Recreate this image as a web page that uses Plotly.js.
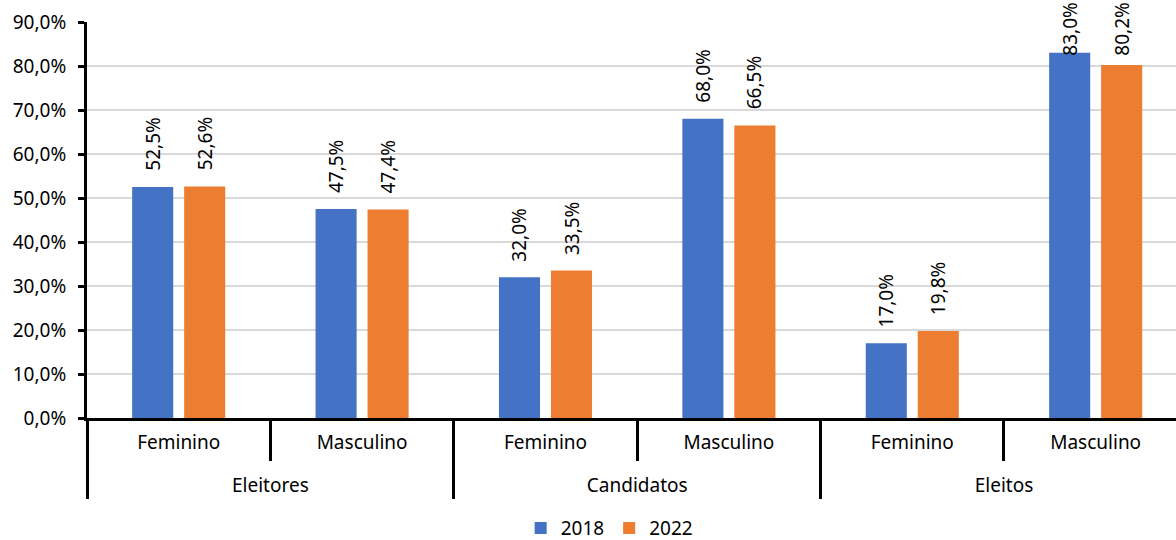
<!DOCTYPE html>
<html>
<head>
<meta charset="utf-8">
<script src="https://cdn.plot.ly/plotly-3.0.1.min.js"></script>
<style>
  html, body { margin: 0; padding: 0; background: #fff; }
  #chart { width: 1176px; height: 540px; }
</style>
</head>
<body>
<div id="chart"></div>
<script>
// Share of women and men among voters, candidates and elected (%)
const groups = ['Eleitores', 'Eleitores', 'Candidatos', 'Candidatos', 'Eleitos', 'Eleitos'];
const sexes = ['Feminino', 'Masculino', 'Feminino', 'Masculino', 'Feminino', 'Masculino'];
const years = ['2018', '2022'];
const values2018 = [52.5, 47.5, 32.0, 68.0, 17.0, 83.0];
const values2022 = [52.6, 47.4, 33.5, 66.5, 19.8, 80.2];
const colors = ['#4472C4', '#ED7D31'];

const FONT = 'Noto Sans, Open Sans, sans-serif';
const fmt = v => v.toFixed(1).replace('.', ',') + '%';

// A small blank second line under each inner label leaves room above the outer row.
const innerLabels = sexes.map(s => s + '<br><span style="font-size:4px">\u00a0</span>');

const series = [values2018, values2022];
const traces = series.map((vals, i) => ({
  type: 'bar',
  name: years[i],
  x: [groups, innerLabels],
  y: vals,
  marker: { color: colors[i] },
  hoverinfo: 'skip'
}));

// Rotated value labels above each bar; labels that would run past the top
// edge are pinned to the top of the figure instead.
const PLOT_H = 396, TOP_M = 22, YMAX = 90, LABEL_LEN = 55, GAP = 17;
const annotations = [];
series.forEach((vals, s) => {
  vals.forEach((v, i) => {
    const topPx = (1 - v / YMAX) * PLOT_H + TOP_M - GAP - LABEL_LEN;
    const ann = {
      xref: 'x', x: i, xshift: s === 0 ? -26 : 26,
      text: fmt(v), textangle: -90, showarrow: false,
      font: { family: FONT, size: 19, color: '#000' }
    };
    if (topPx < 0) {
      Object.assign(ann, { yref: 'paper', y: 1, yanchor: 'top', yshift: TOP_M });
    } else {
      Object.assign(ann, { yref: 'y', y: v, yanchor: 'bottom', yshift: GAP - 3 });
    }
    annotations.push(ann);
  });
});

const layout = {
  width: 1176, height: 540,
  margin: { l: 87, r: 0, t: 22, b: 122 },
  paper_bgcolor: '#fff', plot_bgcolor: '#fff',
  font: { family: FONT, size: 19, color: '#000' },
  separators: ',.',
  barmode: 'group',
  bargap: 0.433,
  bargroupgap: 0.21,
  showlegend: true,
  legend: {
    orientation: 'h', xref: 'container', x: 0.518, xanchor: 'center',
    yref: 'container', y: 0.022, yanchor: 'middle',
    font: { family: FONT, size: 19, color: '#000' }, itemwidth: 30
  },
  xaxis: {
    type: 'multicategory',
    range: [-0.5, 5.438],
    showline: true, linecolor: '#000', linewidth: 3,
    ticks: 'outside', ticklen: 40, tickwidth: 3, tickcolor: '#000',
    ticklabelstandoff: 5,
    showdividers: true, dividercolor: '#000', dividerwidth: 3,
    tickfont: { family: FONT, size: 19, color: '#000' },
    showgrid: false
  },
  yaxis: {
    range: [0, YMAX], dtick: 10, tick0: 0,
    tickformat: '.1f', ticksuffix: '%',
    showline: true, linecolor: '#000', linewidth: 3,
    ticks: 'outside', ticklen: 6, tickwidth: 3, tickcolor: '#000',
    ticklabelstandoff: 8,
    showgrid: true, gridcolor: '#d9d9d9', gridwidth: 1.5,
    zeroline: false,
    tickfont: { family: FONT, size: 19, color: '#000' }
  },
  annotations: annotations
};

Plotly.newPlot('chart', traces, layout, { staticPlot: true, displayModeBar: false });
</script>
</body>
</html>
